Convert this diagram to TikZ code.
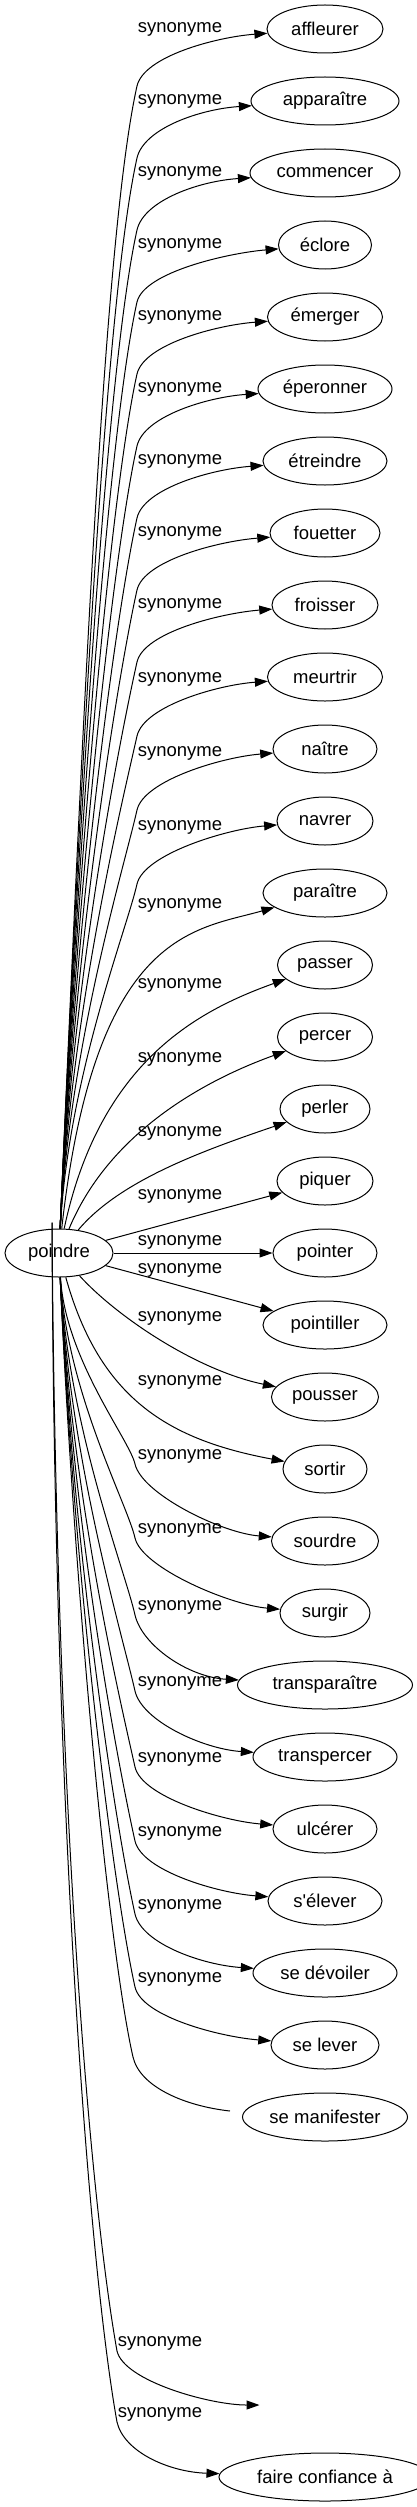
\documentclass[tikz,border=0pt]{standalone}
\usepackage{fontspec}
\setmainfont{Liberation Sans}
\usetikzlibrary{arrows.meta, shapes.geometric}

\begin{document}
\begin{tikzpicture}[x=1pt, y=-1pt,
  mot/.style={ellipse, draw, line width=1pt, minimum height=48pt, inner sep=0pt,
              font=\fontsize{18.5}{22}\selectfont},
  syn/.style={inner sep=0pt, font=\fontsize{18.5}{22}\selectfont},
  rel/.style={line width=1pt, -{Triangle[length=13pt, width=9pt]}}
]
  \useasboundingbox (0,0) rectangle (417,2507);

  % source word
  \node[mot, minimum width=108pt] (poindre) at (59,1253) {poindre};

  % synonyms, one every 72px
  \foreach \id/\word/\wid [count=\nr from 0] in {
      affleurer/affleurer/116, apparaitre/apparaître/148, commencer/commencer/150,
      eclore/éclore/93, emerger/émerger/115, eperonner/éperonner/134,
      etreindre/étreindre/124, fouetter/fouetter/110, froisser/froisser/106,
      meurtrir/meurtrir/115, naitre/naître/104, navrer/navrer/96,
      paraitre/paraître/124, passer/passer/95, percer/percer/95,
      perler/perler/90, piquer/piquer/96, pointer/pointer/104,
      pointiller/pointiller/124, pousser/pousser/107, sortir/sortir/84,
      sourdre/sourdre/107, surgir/surgir/90, transparaitre/transparaître/175,
      transpercer/transpercer/144, ulcerer/ulcérer/104,
      s-elever/s\textquotesingle{}élever/114, se-devoiler/se dévoiler/144,
      se-lever/se lever/108, se-manifester/se manifester/165}
    \node[mot, minimum width=\wid pt] (\id) at (325,{29+72*\nr}) {\word};

  \node[mot, draw=none, minimum width=130pt] (vide) at (325,2405) {};
  \node[mot, minimum width=212pt] (faire) at (325,2477) {faire confiance à};

  % edge labels
  \foreach \id/\ly in {affleurer/29, apparaitre/101, commencer/173, eclore/245,
      emerger/317, eperonner/389, etreindre/461, fouetter/533, froisser/605,
      meurtrir/679, naitre/753, navrer/827, paraitre/905, passer/985,
      percer/1059, perler/1133, piquer/1196, pointer/1242, pointiller/1270,
      pousser/1318, sortir/1382, sourdre/1456, surgir/1530, transparaitre/1607,
      transpercer/1683, ulcerer/1759, s-elever/1833, se-devoiler/1906,
      se-lever/1979}
    \node[syn] (l-\id) at (180,\ly) {synonyme};
  \node[syn] (l-vide) at (160,2343) {synonyme};
  \node[syn] (l-faire) at (160,2414) {synonyme};

  % long edges going up
  \foreach \id/\ty/\ly/\wid in {affleurer/29/29/116, apparaitre/101/101/148,
      commencer/173/173/150, eclore/245/245/93, emerger/317/317/115,
      eperonner/389/389/134, etreindre/461/461/124, fouetter/533/533/110,
      froisser/605/605/106, meurtrir/677/679/115, naitre/749/753/104,
      navrer/821/827/96}{
    \pgfmathsetmacro\by{\ly+57}
    \pgfmathsetmacro\h{1229-\by}
    \draw[rel] (poindre) .. controls ({62+0.018*\h},{1229-0.44*\h})
        and ({137-0.029*\h},{\by+0.13*\h}) .. (137,\by)
        .. controls +(7,-30) and ({325-\wid/2-50},{\ty+8}) .. (\id);
  }

  % short edges
  \foreach \id/\ax/\ay/\bx/\bby in {paraitre/95/930/195/930,
      passer/100/1060/200/1010, percer/108/1135/200/1082,
      perler/120/1180/205/1150, pousser/115/1315/195/1370,
      sortir/100/1400/170/1440}
    \draw[rel] (poindre) .. controls (\ax,\ay) and (\bx,\bby) .. (\id);
  \draw[rel] (poindre) -- (piquer);
  \draw[rel] (poindre) -- (pointer);
  \draw[rel] (poindre) -- (pointiller);

  % long edges going down
  \foreach \id/\ty/\ly/\wid in {sourdre/1541/1456/107, surgir/1613/1530/90,
      transparaitre/1685/1607/175, transpercer/1757/1683/144,
      ulcerer/1829/1759/104, s-elever/1901/1833/114,
      se-devoiler/1973/1906/144, se-lever/2045/1979/108}{
    \pgfmathsetmacro\by{\ly+8}
    \pgfmathsetmacro\h{\by-1277}
    \draw[rel] (poindre) .. controls ({62+0.018*\h},{1277+0.44*\h})
        and ({135-0.029*\h},{\by-0.13*\h}) .. (135,\by)
        .. controls +(7,30) and ({325-\wid/2-50},{\ty-8}) .. (\id);
  }

  % unlabelled edge, no head
  \coordinate (fin-manif) at (230,2111);
  \draw[line width=1pt] (poindre) .. controls (76,1620) and (110,1956) .. (133,2057)
      .. controls +(7,30) and (185,2106) .. (fin-manif);

  % last two run through the source node
  \draw[rel] ([xshift=-7pt,yshift=6pt]poindre.north) .. controls (56,1800)
      and (90,2200) .. (117,2351) .. controls +(7,30) and (210,2405) .. (vide);
  \draw[rel] ([xshift=-7pt,yshift=6pt]poindre.north) .. controls (54,1800)
      and (88,2260) .. (117,2422) .. controls +(7,30) and (169,2472) .. (faire);
\end{tikzpicture}
\end{document}
